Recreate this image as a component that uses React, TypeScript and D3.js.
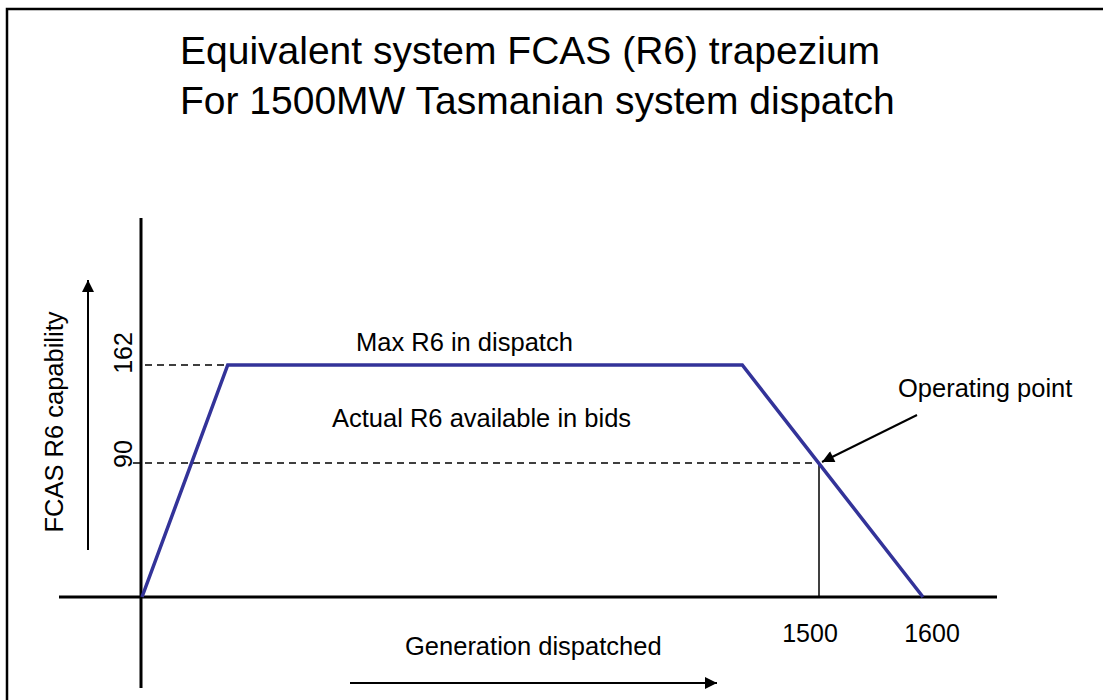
import React from 'react';
import * as d3 from 'd3';

// chart content (schematic, not to scale)
const titleLines = ['Equivalent system FCAS (R6) trapezium', 'For 1500MW Tasmanian system dispatch'];
const genMW = [0, 190, 1330, 1600];
const r6MW = [0, 162, 162, 0];
const operatingMW = 1500;
const operatingR6 = 90;
const maxR6 = 162;
const xTickValues = [1500, 1600];
const yTickValues = [162, 90];
const xAxisLabel = 'Generation dispatched';
const yAxisLabel = 'FCAS R6 capability';
const maxLabel = 'Max R6 in dispatch';
const actualLabel = 'Actual R6 available in bids';
const opLabel = 'Operating point';

const W = 1103;
const H = 700;
const FONT = '"Liberation Sans", Arial, sans-serif';
const BLUE = '#333399';

const App = () => {
    // the drawing is a sketch, so the scales are piecewise
    const x = d3.scaleLinear().domain([0, 1500, 1600]).range([142, 819, 923]);
    const y = d3.scaleLinear().domain([0, 90, 162]).range([597, 463, 365]);

    const pts = genMW.map((g, i) => [g, r6MW[i]] as [number, number]);
    const line = d3.line<[number, number]>().x(d => x(d[0])).y(d => y(d[1]));

    const opX = x(operatingMW);
    const opY = y(operatingR6);
    const tickDx = [-9, 9];

    return (
        <svg width={W} height={H} style={{position: 'absolute', left: 0, top: 0, background: '#fff'}}
             fontFamily={FONT}>
            <defs>
                <marker id="tip" viewBox="0 0 10 10" refX="10" refY="5" markerWidth="14" markerHeight="12"
                        markerUnits="userSpaceOnUse" orient="auto">
                    <path d="M0,0 L10,5 L0,10 z" fill="#000"/>
                </marker>
            </defs>
            {/* frame */}
            <rect x={7} y={9} width={W + 50} height={H + 50} fill="none" stroke="#000" strokeWidth={2.5}/>

            {titleLines.map((t, i) => (
                <text key={i} x={180} y={64 + i * 50} fontSize={39} fill="#000">{t}</text>
            ))}

            {/* guide lines */}
            <line x1={145} x2={x(genMW[1])} y1={y(maxR6)} y2={y(maxR6)} stroke="#000" strokeWidth={1.5}
                  strokeDasharray="7,5"/>
            <line x1={133} x2={opX} y1={opY} y2={opY} stroke="#000" strokeWidth={1.5} strokeDasharray="7,5"/>
            <line x1={opX} x2={opX} y1={opY} y2={y(0)} stroke="#000" strokeWidth={1.5}/>

            {/* axes */}
            <line x1={x(0) - 1} x2={x(0) - 1} y1={218} y2={688} stroke="#000" strokeWidth={3}/>
            <line x1={59} x2={997} y1={y(0)} y2={y(0)} stroke="#000" strokeWidth={3}/>

            {/* trapezium */}
            <path d={line(pts) || ''} fill="none" stroke={BLUE} strokeWidth={3.5} strokeLinejoin="miter"/>

            {/* tick labels */}
            {xTickValues.map((v, i) => (
                <text key={v} x={x(v) + tickDx[i]} y={642} fontSize={25} textAnchor="middle">{v}</text>
            ))}
            {yTickValues.map((v, i) => (
                <text key={v} transform={`translate(132,${y(v) - (i === 0 ? 12 : 9)}) rotate(-90)`}
                      fontSize={25} textAnchor="middle">{v}</text>
            ))}

            {/* annotations */}
            <text x={356} y={351} fontSize={25.5}>{maxLabel}</text>
            <text x={332} y={427} fontSize={25.5}>{actualLabel}</text>
            <text x={898} y={397} fontSize={25.5}>{opLabel}</text>
            <line x1={917} y1={415} x2={opX + 3} y2={opY - 1} stroke="#000" strokeWidth={2} markerEnd="url(#tip)"/>

            {/* axis titles and arrows */}
            <text x={405} y={655} fontSize={25.5}>{xAxisLabel}</text>
            <line x1={350} x2={717} y1={683} y2={683} stroke="#000" strokeWidth={2} markerEnd="url(#tip)"/>
            <text transform="translate(63,422) rotate(-90)" fontSize={25.5} textAnchor="middle">{yAxisLabel}</text>
            <line x1={88} x2={88} y1={550} y2={280} stroke="#000" strokeWidth={2} markerEnd="url(#tip)"/>
        </svg>
    );
};

export default App;
